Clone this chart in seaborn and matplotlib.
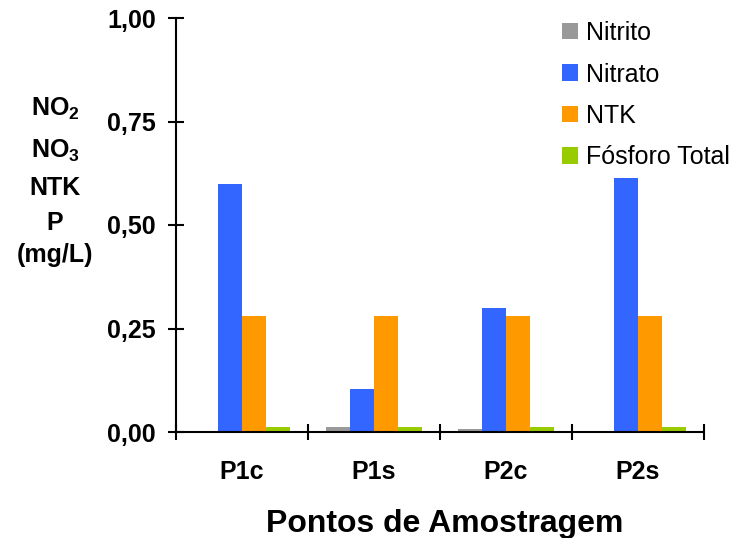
import numpy as np
import pandas as pd
import seaborn as sns
import matplotlib.pyplot as plt
from matplotlib.ticker import FixedLocator, FuncFormatter

# Sampling points and measured concentrations (mg/L)
pontos = ["P1c", "P1s", "P2c", "P2s"]
nitrito = [0.0, 0.012, 0.007, 0.0]
nitrato = [0.60, 0.103, 0.30, 0.613]
ntk = [0.28, 0.28, 0.28, 0.28]
fosforo = [0.012, 0.012, 0.012, 0.012]
series = ["Nitrito", "Nitrato", "NTK", "Fósforo Total"]
cores = ["#999999", "#3366FF", "#FF9900", "#99CC00"]
yticks = [0.0, 0.25, 0.50, 0.75, 1.00]

df = pd.DataFrame({
    "Ponto": np.repeat(pontos, len(series)),
    "Parametro": series * len(pontos),
    "Valor": np.ravel(np.column_stack([nitrito, nitrato, ntk, fosforo])),
})

sns.set_theme(style="white")
plt.rcParams["font.family"] = ["Liberation Sans", "DejaVu Sans"]
plt.rcParams["text.color"] = "black"
plt.rcParams["mathtext.fontset"] = "custom"
plt.rcParams["mathtext.rm"] = "Liberation Sans:bold"
plt.rcParams["mathtext.bf"] = "Liberation Sans:bold"

fig = plt.figure(figsize=(7.36, 5.38), dpi=100)
ax = fig.add_axes([176 / 736, 1 - 432 / 538, (704 - 176) / 736, (432 - 18) / 538])

sns.barplot(data=df, x="Ponto", y="Valor", hue="Parametro", order=pontos,
            hue_order=series, palette=cores, width=0.73, saturation=1,
            edgecolor="none", linewidth=0, ax=ax)

ax.set_xlim(-0.5, len(pontos) - 0.5)
ax.set_ylim(0, 1.0)
ax.yaxis.set_major_locator(FixedLocator(yticks))
ax.yaxis.set_major_formatter(FuncFormatter(lambda v, p: f"{v:.2f}".replace(".", ",")))

for side in ["top", "right"]:
    ax.spines[side].set_visible(False)
for side in ["left", "bottom"]:
    ax.spines[side].set_color("black")
    ax.spines[side].set_linewidth(1.5)

ax.tick_params(axis="y", direction="inout", length=11, width=1.5, color="black",
               left=True, labelsize=18, pad=9, labelcolor="black")
ax.xaxis.set_minor_locator(FixedLocator(np.arange(-0.5, len(pontos), 1.0)))
ax.tick_params(axis="x", which="minor", direction="inout", length=11, width=1.5,
               color="black", bottom=True)
ax.tick_params(axis="x", which="major", length=0, labelsize=18, pad=20,
               labelcolor="black")
for lab in ax.get_xticklabels() + ax.get_yticklabels():
    lab.set_fontweight("bold")

ax.set_ylabel("")
ax.set_xlabel("")
fig.text(445 / 736, 1 - 524 / 538, "Pontos de Amostragem", ha="center", va="center",
         fontsize=23, fontweight="bold", color="black")

ylab_lines = [r"NO$_\mathregular{2}$", r"NO$_\mathregular{3}$", "NTK", "P", "(mg/L)"]
ylab_y = [109, 151, 188, 223, 255]
for txt, yy in zip(ylab_lines, ylab_y):
    fig.text(55 / 736, 1 - yy / 538, txt, ha="center", va="center",
             fontsize=18, fontweight="bold", color="black")

handles, labels = ax.get_legend_handles_labels()
leg = ax.legend(handles, labels, loc="upper left",
                bbox_to_anchor=(562 / 736, 1 - 21 / 538),
                bbox_transform=fig.transFigure, frameon=False, fontsize=18,
                handlelength=0.64, handleheight=0.64, handletextpad=0.3,
                labelspacing=0.7, borderaxespad=0, borderpad=0)
for t in leg.get_texts():
    t.set_color("black")

fig.savefig("out.png", dpi=100)
